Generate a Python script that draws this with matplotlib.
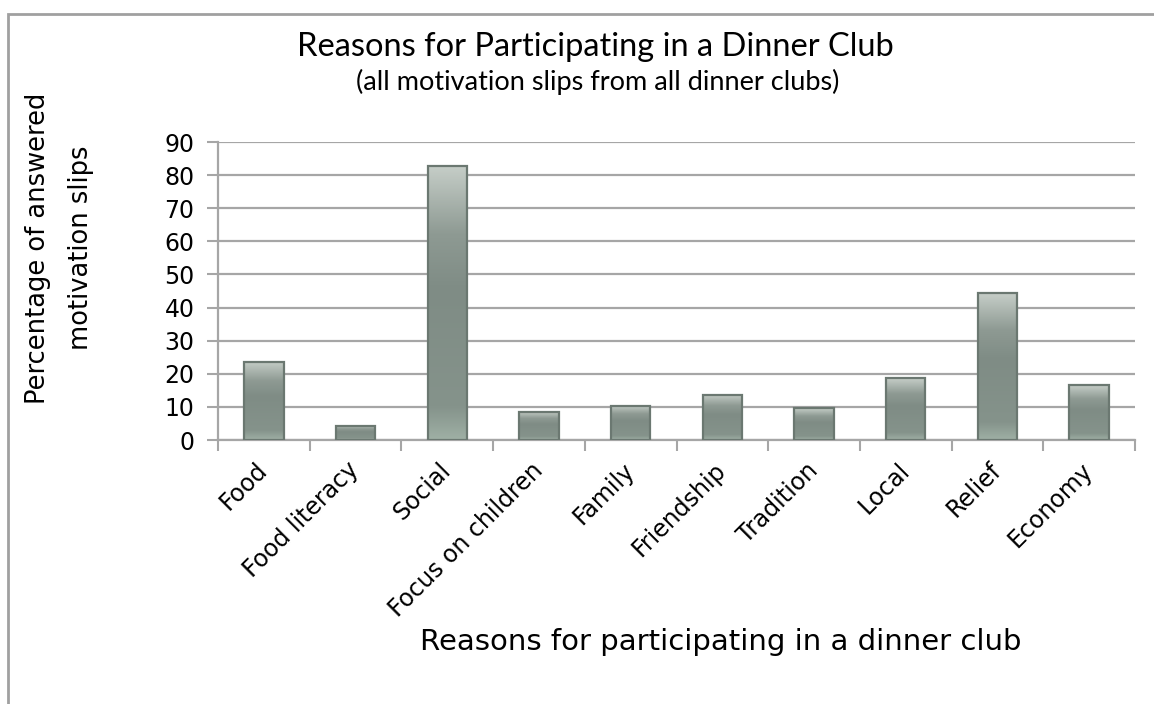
import numpy as np
import matplotlib
matplotlib.use('Agg')
from matplotlib import pyplot as plt
from matplotlib.colors import LinearSegmentedColormap
from matplotlib.patches import Rectangle

reasons = ['Food', 'Food literacy', 'Social', 'Focus on children', 'Family',
           'Friendship', 'Tradition', 'Local', 'Relief', 'Economy']
percentages = [23.6, 4.3, 82.9, 8.6, 10.3, 13.6, 9.6, 18.6, 44.3, 16.6]
y_ticks = [0, 10, 20, 30, 40, 50, 60, 70, 80, 90]

title = 'Reasons for Participating in a Dinner Club'
subtitle = '(all motivation slips from all dinner clubs)'
x_label = 'Reasons for participating in a dinner club'
y_label = 'Percentage of answered\nmotivation slips'

grid_col = '#a6a6a6'
# bar gradient: light top, darker middle, a bit lighter near the base
bar_cmap = LinearSegmentedColormap.from_list(
    'bar', [(0.0, '#9fb0a5'), (0.12, '#85938b'), (0.55, '#7f8c85'),
            (0.75, '#8e9a93'), (1.0, '#c6cec8')])

fig = plt.figure(figsize=(11.54, 7.04), dpi=100)
ax = fig.add_axes([218 / 1154, 1 - 440 / 704, 917 / 1154, 298 / 704])

x = np.arange(len(reasons))
bars = ax.bar(x, percentages, width=0.43, color='none',
              edgecolor='#6b7871', linewidth=1.6, zorder=3)
grad = np.linspace(0, 1, 256).reshape(-1, 1)
for b in bars:
    x0, y0 = b.get_x(), b.get_y()
    w, h = b.get_width(), b.get_height()
    im = ax.imshow(grad, cmap=bar_cmap, origin='lower', aspect='auto',
                   extent=[x0, x0 + w, y0, y0 + h], zorder=2)
    im.set_clip_path(b)

ax.set_xlim(-0.5, len(reasons) - 0.5)
ax.set_ylim(0, 90)
ax.set_yticks(y_ticks)
ax.set_xticks(np.arange(len(reasons) + 1) - 0.5, minor=False)
ax.set_xticklabels([])
ax.set_xticks(x, minor=True)
ax.set_xticklabels(reasons, minor=True, rotation=45, ha='right',
                   va='center', rotation_mode='anchor',
                   fontsize=17, family='DejaVu Sans')
ax.tick_params(axis='x', which='major', length=8, width=1.5, color=grid_col)
ax.tick_params(axis='x', which='minor', length=0, pad=19)
ax.tick_params(axis='y', length=8, width=1.5, color=grid_col, labelsize=17,
               pad=9)
ax.yaxis.grid(True, color=grid_col, linewidth=1.6, zorder=0)
ax.set_axisbelow(True)
for side in ['top', 'right']:
    ax.spines[side].set_visible(False)
for side in ['left', 'bottom']:
    ax.spines[side].set_color(grid_col)
    ax.spines[side].set_linewidth(1.6)

fig.text(60 / 1154, 1 - 248 / 704, y_label, fontsize=18.5, rotation=90,
         ha='center', va='center', linespacing=1.85, multialignment='center')
fig.text(721 / 1154, 1 - 642 / 704, x_label, fontsize=21,
         ha='center', va='center')

fig.text(595 / 1154, 1 - 47 / 704, title, fontsize=23.5, family='Lato',
         ha='center', va='center')
fig.text(598 / 1154, 1 - 82 / 704, subtitle, fontsize=19.5, family='Lato',
         ha='center', va='center')

# chart frame
fig.patches.append(Rectangle((8 / 1154, -0.2), 2, 1 - 14 / 704 + 0.2,
                             transform=fig.transFigure, fill=False,
                             edgecolor='#a0a0a0', linewidth=2))

fig.savefig('out.png', dpi=100)
